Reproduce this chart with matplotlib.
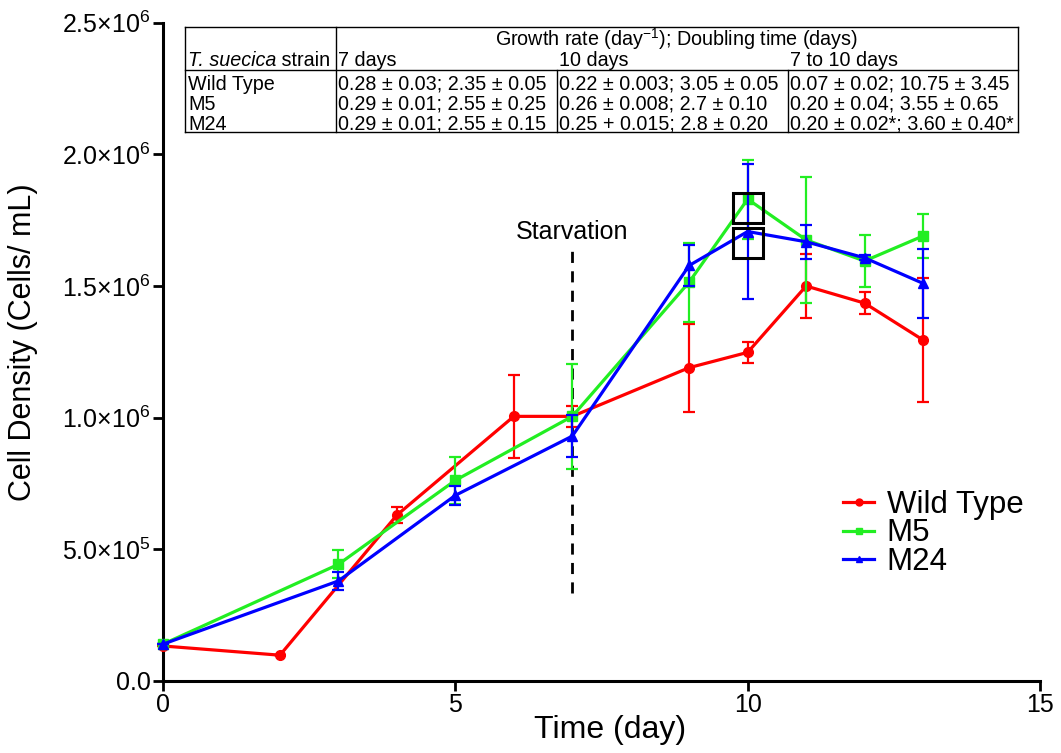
import matplotlib.pyplot as plt
from matplotlib.lines import Line2D
import numpy as np

plt.rcParams['font.family'] = ['Liberation Sans', 'DejaVu Sans']
plt.rcParams['mathtext.fontset'] = 'custom'
plt.rcParams['mathtext.rm'] = 'Liberation Sans'

# growth curves (cells / mL)
days_wt = [0, 2, 4, 6, 7, 9, 10, 11, 12, 13]
wild_type = np.array([0.133, 0.098, 0.63, 1.005, 1.005, 1.19, 1.248, 1.50, 1.435, 1.295]) * 1e6
wild_type_err = np.array([0, 0, 0.03, 0.157, 0.04, 0.167, 0.04, 0.12, 0.042, 0.235]) * 1e6

days_mut = [0, 3, 5, 7, 9, 10, 11, 12, 13]
m5 = np.array([0.14, 0.443, 0.762, 1.005, 1.515, 1.83, 1.675, 1.595, 1.69]) * 1e6
m5_err = np.array([0, 0.053, 0.09, 0.2, 0.15, 0.15, 0.24, 0.098, 0.085]) * 1e6
m24 = np.array([0.14, 0.38, 0.705, 0.93, 1.578, 1.707, 1.668, 1.607, 1.51]) * 1e6
m24_err = np.array([0, 0.035, 0.036, 0.08, 0.078, 0.257, 0.064, 0.01, 0.13]) * 1e6

box_days = [10, 10]
box_vals = [1.795e6, 1.665e6]

starvation_day = 7
starvation_span = [0.335e6, 1.64e6]

yticks = [0, 0.5e6, 1.0e6, 1.5e6, 2.0e6, 2.5e6]
ytick_labels = ['0.0', r'5.0×10$^{\mathregular{5}}$', r'1.0×10$^{\mathregular{6}}$',
                r'1.5×10$^{\mathregular{6}}$', r'2.0×10$^{\mathregular{6}}$', r'2.5×10$^{\mathregular{6}}$']

table_rows = ['Wild Type', 'M5', 'M24']
table_cols = ['7 days', '10 days', '7 to 10 days']
table_vals = [
    ['0.28 ± 0.03; 2.35 ± 0.05', '0.22 ± 0.003; 3.05 ± 0.05', '0.07 ± 0.02; 10.75 ± 3.45'],
    ['0.29 ± 0.01; 2.55 ± 0.25', '0.26 ± 0.008; 2.7 ± 0.10', '0.20 ± 0.04; 3.55 ± 0.65'],
    ['0.29 ± 0.01; 2.55 ± 0.15', '0.25 + 0.015; 2.8 ± 0.20', '0.20 ± 0.02*; 3.60 ± 0.40*'],
]

W, H = 1061, 753
fig = plt.figure(figsize=(W / 100, H / 100), dpi=100)
ax = fig.add_axes([163 / W, 1 - 681 / H, (1040 - 163) / W, (681 - 22.7) / H])

red, green, blue = '#FF0000', '#22EE22', '#0000FF'
kw = dict(lw=2.3, elinewidth=1.6, capsize=4.5, capthick=1.6, clip_on=False)
ax.errorbar(days_wt, wild_type, yerr=wild_type_err, color=red, marker='o', ms=7, zorder=3, **kw)
ax.errorbar(days_mut, m5, yerr=m5_err, color=green, marker='s', ms=6.5, zorder=4, **kw)
ax.errorbar(days_mut, m24, yerr=m24_err, color=blue, marker='^', ms=6.5, zorder=5, **kw)

ax.plot(box_days, box_vals, ls='none', marker='s', ms=22, mfc='none', mec='black', mew=2.2, zorder=6)

ax.vlines(starvation_day, *starvation_span, colors='black', linestyles=(0, (4, 3)), lw=2)
ax.text(starvation_day, starvation_span[1] + 0.02e6, 'Starvation', ha='center', va='bottom', fontsize=18)

ax.set_xlim(0, 15)
ax.set_ylim(0, 2.5e6)
ax.set_xticks([0, 5, 10, 15])
ax.set_yticks(yticks)
ax.set_yticklabels(ytick_labels)
ax.tick_params(labelsize=18, width=2, length=7, pad=2)
for s in ['top', 'right']:
    ax.spines[s].set_visible(False)
for s in ['left', 'bottom']:
    ax.spines[s].set_linewidth(2.2)
ax.set_xlabel('Time (day)', fontsize=23)
ax.set_ylabel('Cell Density (Cells/ mL)', fontsize=22)
ax.xaxis.set_label_coords(0.51, -0.052)
ax.yaxis.set_label_coords(-0.143, 0.515)

handles = [Line2D([], [], color=red, lw=2.3, marker='o', ms=5),
           Line2D([], [], color=green, lw=2.3, marker='s', ms=5),
           Line2D([], [], color=blue, lw=2.3, marker='^', ms=5)]
ax.legend(handles, table_rows, loc='upper left', bbox_to_anchor=(843 / W, 1 - 490 / H),
          bbox_transform=fig.transFigure, frameon=False, fontsize=22.5, handlelength=1.0,
          handletextpad=0.4, labelspacing=-0.05, borderpad=0, borderaxespad=0)

# growth-rate table drawn in figure pixels
def fx(px):
    return px / W

def fy(py):
    return 1 - py / H

x_edges = [185, 336, 557, 788, 1018]
top, mid, bot = 27, 70, 132
lk = dict(color='black', lw=1.0, transform=fig.transFigure)
for yl in [top, mid, bot]:
    fig.add_artist(Line2D([fx(185), fx(1018)], [fy(yl), fy(yl)], **lk))
for xe in [185, 336, 1018]:
    fig.add_artist(Line2D([fx(xe), fx(xe)], [fy(top), fy(bot)], **lk))
for xe in [557, 788]:
    fig.add_artist(Line2D([fx(xe), fx(xe)], [fy(mid), fy(bot)], **lk))

fs = 14.2
tk = dict(fontsize=fs, va='center', ha='left')
fig.text(fx(677), fy(39), r'Growth rate (day$^{\mathregular{-1}}$); Doubling time (days)',
         ha='center', va='center', fontsize=fs)
t_it = fig.text(fx(188), fy(60), 'T. suecica', style='italic', **tk)
ax.annotate(' strain', xy=(1, 0.5), xycoords=t_it, va='center', ha='left', fontsize=fs)
for j, c in enumerate(table_cols):
    fig.text(fx(x_edges[j + 1] + 2), fy(60), c, **tk)
for i, r in enumerate(table_rows):
    yy = fy(84 + i * 20)
    fig.text(fx(188), yy, r, **tk)
    for j, v in enumerate(table_vals[i]):
        fig.text(fx(x_edges[j + 1] + 2), yy, v, **tk)

fig.savefig('out.png', dpi=100)
